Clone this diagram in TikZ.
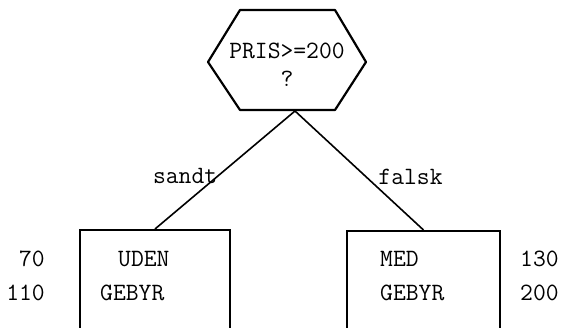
\documentclass[tikz,border=0pt]{standalone}
\usepackage{fontspec}
\usetikzlibrary{positioning, calc}

\tikzset{
  typed/.style={font=\ttfamily\fontsize{25}{28}\selectfont, inner sep=0pt},
  outcome/.style={draw, line width=2.2bp, minimum width=150bp, minimum height=200bp, inner sep=0pt},
  branch/.style={line width=1.6bp}
}

\begin{document}
\begin{tikzpicture}[x=1bp, y=1bp]
  \clip (0,0) rectangle (561,327);
  \fill[white] (0,0) rectangle (561,327);

  % Decision
  \draw[line width=2.2bp, line join=round]
    (240,317) -- (335,317) -- (366,265) -- (335,217) -- (240,217) -- (208,265) -- cycle;
  \node[typed, align=center] (cond) at (287,262) {PRIS>=200\\?};
  \coordinate (apex) at (295,216);

  % Outcomes
  \node[outcome, anchor=north] (uden) at (155,98) {};
  \node[outcome, anchor=north, minimum width=153bp] (med) at (423.5,97) {};

  \draw[branch] (apex) -- (uden.north) node[typed, pos=0.55, left=0bp] (sandt) {sandt};
  \draw[branch] (apex) -- (med.north) node[typed, pos=0.55, right=12bp] (falsk) {falsk};

  % Box texts
  \node[typed, anchor=west] (uden1) at (118,68) {UDEN};
  \node[typed, anchor=west] (uden2) at (100,34) {GEBYR};
  \node[typed, anchor=west] (med1) at (380,68) {MED};
  \node[typed, anchor=west] (med2) at (380,34) {GEBYR};

  % Figures beside the boxes
  \node[typed, anchor=east] (n70) at (45,68) {70};
  \node[typed, anchor=east] (n110) at (45,34) {110};
  \node[typed, anchor=west] (n130) at (520,68) {130};
  \node[typed, anchor=west] (n200) at (520,34) {200};
\end{tikzpicture}
\end{document}
